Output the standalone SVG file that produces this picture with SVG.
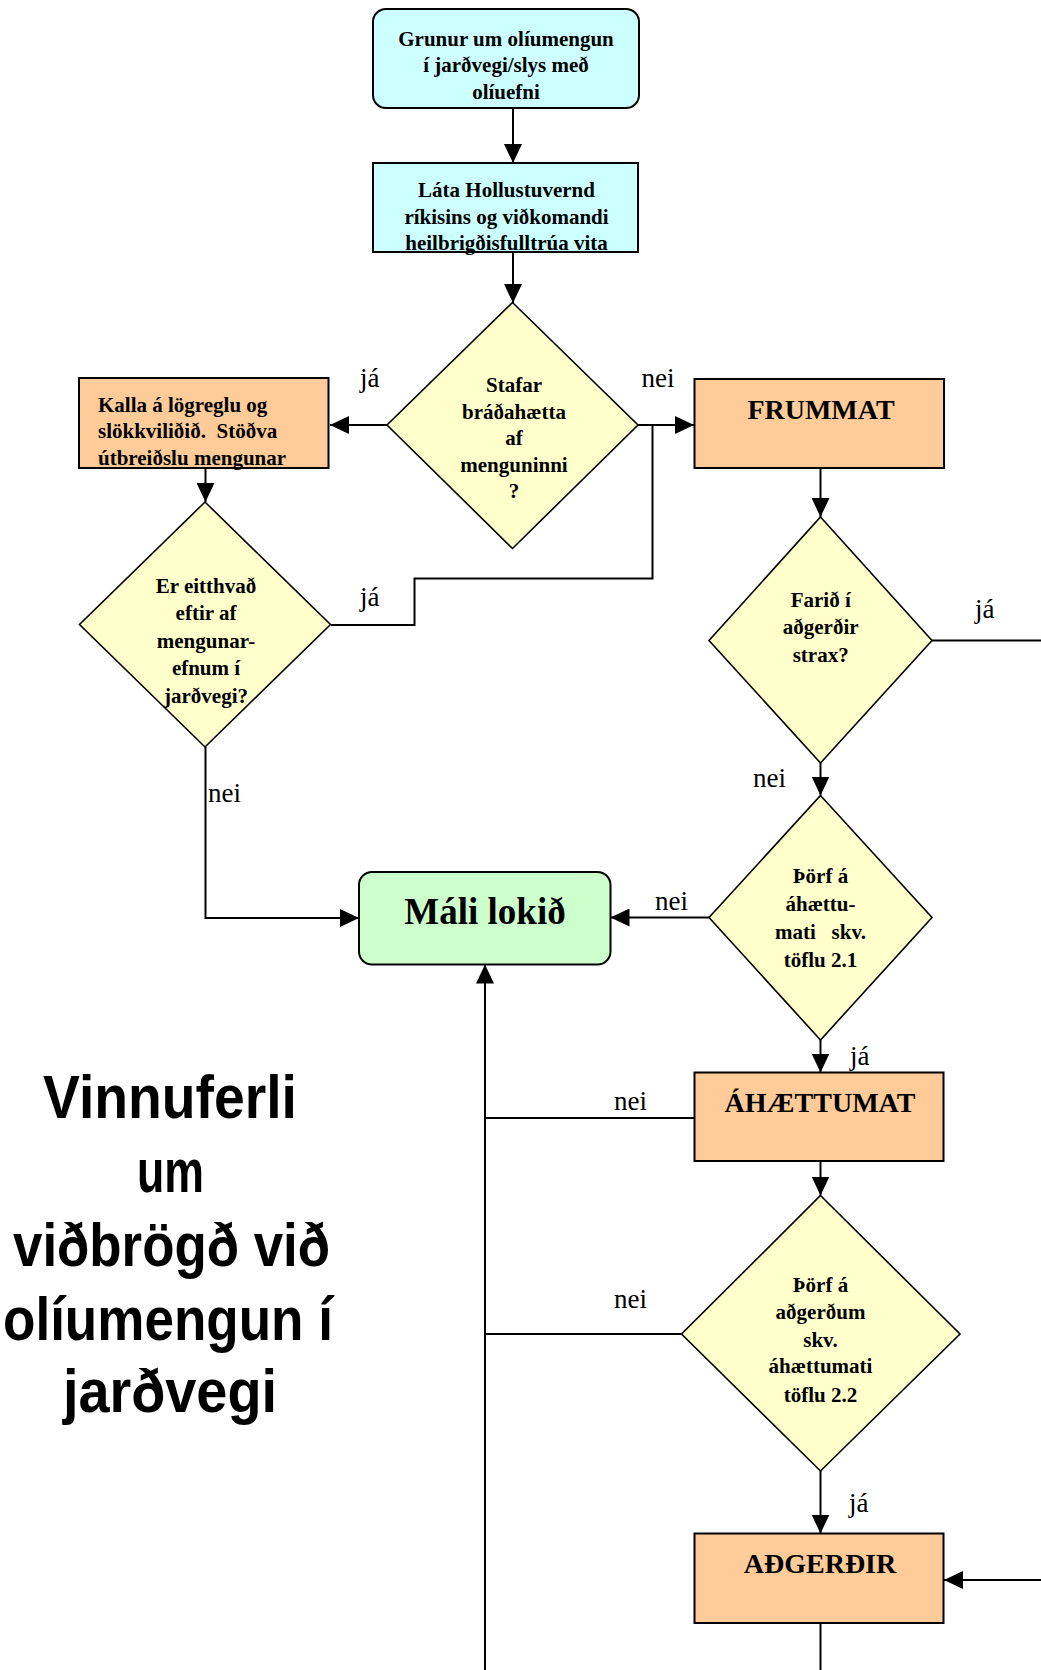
<svg xmlns="http://www.w3.org/2000/svg" width="1041" height="1670" viewBox="0 0 1041 1670">
  <style>
    .box { stroke: #000; stroke-width: 2; }
    .dia { fill: #FFFFCC; stroke: #000; stroke-width: 1.6; }
    .cyan { fill: #CCFFFF; }
    .orange { fill: #FFCC99; }
    .green { fill: #CCFFCC; }
    .t { font-family: "Liberation Serif", "Times New Roman", serif; font-weight: bold; font-size: 21px; fill: #000; }
    .c { text-anchor: middle; }
    .big { font-size: 28px; }
    .huge { font-size: 37px; }
    .lbl { font-family: "Liberation Serif", "Times New Roman", serif; font-size: 27px; fill: #000; }
    .title { font-family: "Liberation Sans", Arial, sans-serif; font-weight: bold; font-size: 61px; fill: #000; text-anchor: middle; }
    .ln { fill: none; stroke: #000; stroke-width: 2; }
  </style>
  <defs>
    <marker id="arr" markerUnits="userSpaceOnUse" markerWidth="19" markerHeight="18" refX="19" refY="9" orient="auto">
      <path d="M0,0 L19,9 L0,18 Z" fill="#000"/>
    </marker>
  </defs>

  <rect width="1041" height="1670" fill="#fff"/>

  <!-- connectors -->
  <g id="connectors">
    <path class="ln" d="M513,108 V163" marker-end="url(#arr)"/>
    <path class="ln" d="M513,252 V303" marker-end="url(#arr)"/>
    <path class="ln" d="M387,425 H330" marker-end="url(#arr)"/>
    <path class="ln" d="M638,425 H694" marker-end="url(#arr)"/>
    <path class="ln" d="M331,625 H414.5 V578.5 H652.5 V425"/>
    <path class="ln" d="M205.5,469 V502" marker-end="url(#arr)"/>
    <path class="ln" d="M205.5,747 V918 H359" marker-end="url(#arr)"/>
    <path class="ln" d="M820.5,468 V517" marker-end="url(#arr)"/>
    <path class="ln" d="M932,640.5 H1041"/>
    <path class="ln" d="M820.5,763 V795.5" marker-end="url(#arr)"/>
    <path class="ln" d="M709,917.5 H610.5" marker-end="url(#arr)"/>
    <path class="ln" d="M820.5,1040 V1072.5" marker-end="url(#arr)"/>
    <path class="ln" d="M694.5,1118 H485"/>
    <path class="ln" d="M820.5,1161 V1195.5" marker-end="url(#arr)"/>
    <path class="ln" d="M681.5,1334 H485"/>
    <path class="ln" d="M820.5,1471 V1533.5" marker-end="url(#arr)"/>
    <path class="ln" d="M1041,1580 H944" marker-end="url(#arr)"/>
    <path class="ln" d="M820.5,1623 V1670"/>
    <path class="ln" d="M485,1670 V964.5" marker-end="url(#arr)"/>

    <text class="lbl" x="360" y="387">já</text>
    <text class="lbl" x="641.5" y="387">nei</text>
    <text class="lbl" x="360" y="606">já</text>
    <text class="lbl" x="208" y="802">nei</text>
    <text class="lbl" x="975" y="618">já</text>
    <text class="lbl" x="753" y="787">nei</text>
    <text class="lbl" x="655" y="910">nei</text>
    <text class="lbl" x="850" y="1065">já</text>
    <text class="lbl" x="614" y="1110">nei</text>
    <text class="lbl" x="614" y="1308">nei</text>
    <text class="lbl" x="849" y="1512">já</text>
  </g>

  <!-- start -->
  <g id="grunur">
    <rect class="box cyan" x="373" y="9" width="266" height="99" rx="13"/>
    <text class="t c" x="506" y="46">Grunur um olíumengun</text>
    <text class="t c" x="506" y="72.2">í jarðvegi/slys með</text>
    <text class="t c" x="506" y="98.5">olíuefni</text>
  </g>

  <g id="lata-vita">
    <rect class="box cyan" x="373" y="163" width="265" height="89"/>
    <text class="t c" x="506.5" y="196.7">Láta Hollustuvernd</text>
    <text class="t c" x="506.5" y="223.5">ríkisins og viðkomandi</text>
    <text class="t c" x="506.5" y="250">heilbrigðisfulltrúa vita</text>
  </g>

  <g id="stafar-haetta">
    <polygon class="dia" points="512.5,302.5 638,425 512.5,548.5 387,425"/>
    <text class="t c" x="514" y="391.5">Stafar</text>
    <text class="t c" x="514" y="418.5">bráðahætta</text>
    <text class="t c" x="514" y="445">af</text>
    <text class="t c" x="514" y="471.5">menguninni</text>
    <text class="t c" x="514" y="498">?</text>
  </g>

  <g id="kalla">
    <rect class="box orange" x="79" y="378" width="249.5" height="90"/>
    <text class="t" x="98" y="411.7">Kalla á lögreglu og</text>
    <text class="t" x="98" y="438.3" style="white-space:pre">slökkviliðið.  Stöðva</text>
    <text class="t" x="98" y="465">útbreiðslu mengunar</text>
  </g>

  <g id="eftir-af">
    <polygon class="dia" points="205,502 330.5,624.5 205,747 79.5,624.5"/>
    <text class="t c" x="206" y="592.7">Er eitthvað</text>
    <text class="t c" x="206" y="620">eftir af</text>
    <text class="t c" x="206" y="647.5">mengunar-</text>
    <text class="t c" x="206" y="675">efnum í</text>
    <text class="t c" x="206" y="703">jarðvegi?</text>
  </g>

  <g id="frummat">
    <rect class="box orange" x="694.5" y="379" width="249.5" height="89"/>
    <text class="t c big" x="821" y="419.3">FRUMMAT</text>
  </g>

  <g id="strax">
    <polygon class="dia" points="820.5,517 932,640.5 820.5,763 709,640.5"/>
    <text class="t c" x="820.7" y="606.7">Farið í</text>
    <text class="t c" x="820.7" y="634">aðgerðir</text>
    <text class="t c" x="820.7" y="661.7">strax?</text>
  </g>

  <g id="thorf-ahaettumat">
    <polygon class="dia" points="820.5,795.5 932,917.5 820.5,1040 709,917.5"/>
    <text class="t c" x="820.5" y="883.3">Þörf á</text>
    <text class="t c" x="820.5" y="911.3">áhættu-</text>
    <text class="t c" x="820.5" y="939.3" style="white-space:pre">mati   skv.</text>
    <text class="t c" x="820.5" y="966.7">töflu 2.1</text>
  </g>

  <g id="mali-lokid">
    <rect class="box green" x="359" y="872" width="251.5" height="92.5" rx="13"/>
    <text class="t c huge" x="485" y="924">Máli lokið</text>
  </g>

  <g id="ahaettumat">
    <rect class="box orange" x="694.5" y="1072.5" width="249" height="88.5"/>
    <text class="t c big" x="820" y="1111.7">ÁHÆTTUMAT</text>
  </g>

  <g id="thorf-adgerdum">
    <polygon class="dia" points="820.5,1195.5 960,1334 820.5,1471 681.5,1334"/>
    <text class="t c" x="820.5" y="1291.7">Þörf á</text>
    <text class="t c" x="820.5" y="1319.3">aðgerðum</text>
    <text class="t c" x="820.5" y="1346.7">skv.</text>
    <text class="t c" x="820.5" y="1373.3">áhættumati</text>
    <text class="t c" x="820.5" y="1401.7">töflu 2.2</text>
  </g>

  <g id="adgerdir">
    <rect class="box orange" x="694.5" y="1533.5" width="249" height="89.5"/>
    <text class="t c big" x="820" y="1573.3">AÐGERÐIR</text>
  </g>

  <!-- title -->
  <g id="title">
    <text class="title" x="170" y="1118" textLength="254" lengthAdjust="spacingAndGlyphs">Vinnuferli</text>
    <text class="title" x="170.5" y="1192" textLength="67" lengthAdjust="spacingAndGlyphs">um</text>
    <text class="title" x="171.5" y="1266" textLength="317" lengthAdjust="spacingAndGlyphs">viðbrögð við</text>
    <text class="title" x="168" y="1340" textLength="330" lengthAdjust="spacingAndGlyphs">olíumengun í</text>
    <text class="title" x="170" y="1412" textLength="214" lengthAdjust="spacingAndGlyphs">jarðvegi</text>
  </g>
</svg>
